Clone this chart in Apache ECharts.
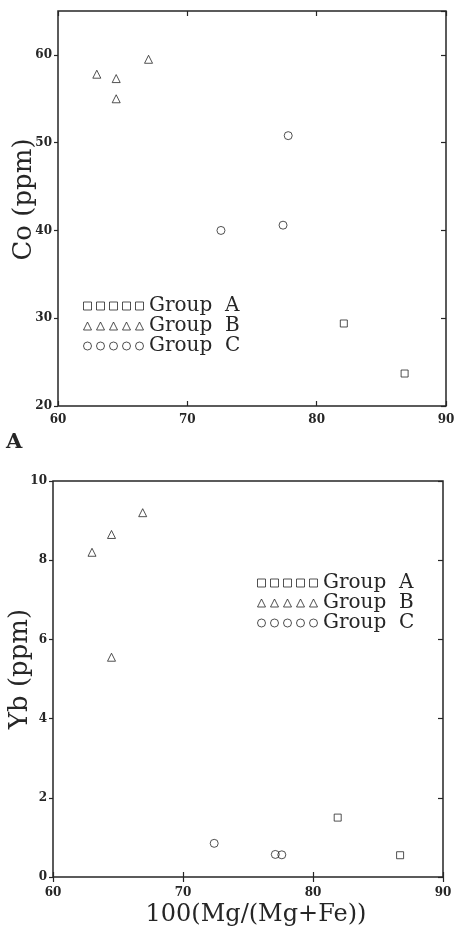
<!DOCTYPE html>
<html>
<head>
<meta charset="utf-8">
<script src="https://cdn.jsdelivr.net/npm/echarts@6/dist/echarts.min.js"></script>
<style>html,body{margin:0;padding:0;background:#fff}#c{width:454px;height:927px}</style>
</head>
<body>
<div id="c"></div>
<script>
// ---- data (x = 100(Mg/(Mg+Fe)), y = ppm) ----
var groupNames = ['Group A', 'Group B', 'Group C'];
var xTicks = [60, 70, 80, 90];
var coTicks = [20, 30, 40, 50, 60];
var ybTicks = [0, 2, 4, 6, 8, 10];

var coGroupA = [[82.1, 29.4], [86.8, 23.7]];
var coGroupB = [[63.0, 57.8], [64.5, 57.3], [64.5, 55.0], [67.0, 59.5]];
var coGroupC = [[72.6, 40.0], [77.4, 40.6], [77.8, 50.8]];

var ybGroupA = [[81.9, 1.5], [86.7, 0.55]];
var ybGroupB = [[63.0, 8.2], [64.5, 8.65], [66.9, 9.2], [64.5, 5.55]];
var ybGroupC = [[72.4, 0.85], [77.1, 0.57], [77.6, 0.56]];

// ---- styling ----
var INK = '#262626';
var FONT = 'DejaVu Serif';

function sq(x){return 'M'+x+',0h8v8h-8z';}
function tri(x){return 'M'+(x+4)+',0L'+(x+8)+',8H'+x+'Z';}
function cir(x){return 'M'+x+',4a4,4 0 1,0 8,0a4,4 0 1,0 -8,0Z';}
function row(f){var s='';for(var i=0;i<5;i++){s+=f(i*13)+' ';}return 'path://'+s;}
var icons = [row(sq), row(tri), row(cir)];
var symbols = ['rect', 'triangle', 'circle'];
var sizes = [7, 8, 8];

function xAxisPair(gi, showName){
  var base = {
    type:'value', gridIndex:gi, min:xTicks[0], max:xTicks[xTicks.length-1], interval:10,
    splitLine:{show:false}, axisLine:{show:false}
  };
  return [
    Object.assign({}, base, {
      position:'bottom',
      axisTick:{inside:true, length:5, lineStyle:{color:INK, width:1.2}},
      axisLabel:{color:INK, fontFamily:FONT, fontSize:12, fontWeight:'bold', margin: gi===0?8:10},
      name: showName ? '100(Mg/(Mg+Fe))' : '',
      nameLocation:'middle', nameGap:26, nameMoveOverlap:false,
      nameTextStyle:{color:INK, fontFamily:FONT, fontSize:24, padding:[0,0,0,16]}
    }),
    Object.assign({}, base, {
      position:'top',
      axisTick:{inside:true, length:5, lineStyle:{color:INK, width:1.2}},
      axisLabel:{show:false}
    })
  ];
}
function yAxisPair(gi, ticks, max, name, gap, shift){
  var base = {
    type:'value', gridIndex:gi, min:ticks[0], max:max, interval:ticks[1]-ticks[0],
    splitLine:{show:false}, axisLine:{show:false}
  };
  return [
    Object.assign({}, base, {
      position:'left',
      axisTick:{inside:false, length:4, lineStyle:{color:INK, width:1.2}},
      axisLabel:{color:INK, fontFamily:FONT, fontSize:12, fontWeight:'bold', margin:6, showMaxLabel: max === ticks[ticks.length-1]},
      name:name, nameLocation:'middle', nameGap:gap, nameMoveOverlap:false,
      nameTextStyle:{color:INK, fontFamily:FONT, fontSize:26, padding:[0,0,0,shift]}
    }),
    Object.assign({}, base, {
      position:'right',
      axisTick:{inside:true, length:5, lineStyle:{color:INK, width:1.2}},
      axisLabel:{show:false}
    })
  ];
}

var xA = xAxisPair(0, false), xB = xAxisPair(1, true);
var yA = yAxisPair(0, coTicks, 65, 'Co (ppm)', 21, 18);
var yB = yAxisPair(1, ybTicks, 10, 'Yb (ppm)', 20, 20);

function mkSeries(name, data, gi, k){
  return {
    name:name, type:'scatter', xAxisIndex: gi*2, yAxisIndex: gi*2, data:data,
    symbol:symbols[k], symbolSize:sizes[k],
    itemStyle:{color:'rgba(255,255,255,0)', borderColor:INK, borderWidth:1},
    emphasis:{disabled:true}, silent:true
  };
}

var legendBase = {
  orient:'vertical', selectedMode:false, itemWidth:61, itemHeight:8, itemGap:0,
  icon:'rect',
  itemStyle:{color:'rgba(255,255,255,0)', borderColor:INK, borderWidth:1},
  textStyle:{color:INK, fontFamily:FONT, fontSize:20, lineHeight:20},
  formatter:function(n){return n.replace(' ', '  ');},
  data: groupNames.map(function(n,i){return {name:n, icon:icons[i]};})
};

var option = {
  backgroundColor:'#fff',
  animation:false,
  title:{text:'A', left:1, top:427, textStyle:{fontFamily:FONT, fontWeight:'bold', fontSize:21, color:INK}},
  grid:[
    {left:58, right:8, top:11, height:395, show:true, borderColor:INK, borderWidth:1.5, backgroundColor:'transparent', outerBoundsMode:'none', containLabel:false},
    {left:53, right:11, top:481, height:396, show:true, borderColor:INK, borderWidth:1.5, backgroundColor:'transparent', outerBoundsMode:'none', containLabel:false}
  ],
  xAxis: xA.concat(xB),
  yAxis: yA.concat(yB),
  legend:[
    Object.assign({}, legendBase, {left:78, top:291}),
    Object.assign({}, legendBase, {left:252, top:568})
  ],
  series:[
    mkSeries(groupNames[0], coGroupA, 0, 0),
    mkSeries(groupNames[1], coGroupB, 0, 1),
    mkSeries(groupNames[2], coGroupC, 0, 2),
    mkSeries(groupNames[0], ybGroupA, 1, 0),
    mkSeries(groupNames[1], ybGroupB, 1, 1),
    mkSeries(groupNames[2], ybGroupC, 1, 2)
  ]
};
var chart = echarts.init(document.getElementById('c'), null, {renderer:'canvas'});
chart.setOption(option);
</script>
</body>
</html>
